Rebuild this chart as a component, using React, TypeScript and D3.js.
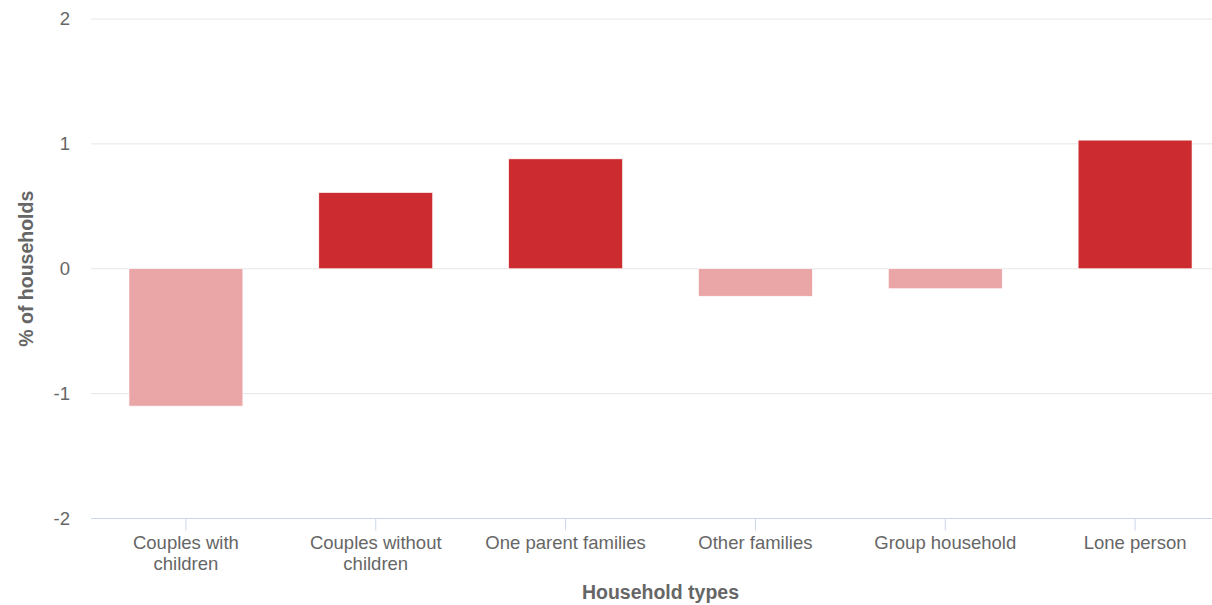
import React from "react";
import * as d3 from "d3";

const categories: string[][] = [
  ["Couples with", "children"],
  ["Couples without", "children"],
  ["One parent families"],
  ["Other families"],
  ["Group household"],
  ["Lone person"],
];
const values: number[] = [-1.1, 0.61, 0.88, -0.22, -0.16, 1.03];
const yTicks: number[] = [-2, -1, 0, 1, 2];

const W = 1212;
const H = 605;
const plotLeft = 91;
const plotRight = 1230;
const plotTop = 19;
const plotBottom = 518.5;

export default function App() {
  const x = d3
    .scaleBand<number>()
    .domain(d3.range(categories.length))
    .range([plotLeft, plotRight])
    .paddingInner(0.4)
    .paddingOuter(0.2);
  const band = d3
    .scaleBand<number>()
    .domain(d3.range(categories.length))
    .range([plotLeft, plotRight]);
  const y = d3.scaleLinear().domain([-2, 2]).range([plotBottom, plotTop]);
  const font = "'Liberation Sans', Arial, sans-serif";
  const bottomY = y(-2);

  return (
    <svg
      width={W}
      height={H}
      style={{ position: "absolute", left: 0, top: 0, background: "#fff", overflow: "hidden" }}
      fontFamily={font}
    >
      {yTicks.map((t) => (
        <g key={t}>
          {t !== -2 && (
            <line x1={plotLeft} x2={plotRight} y1={y(t)} y2={y(t)} stroke="#e6e6e6" strokeWidth={1} />
          )}
          <text x={70} y={y(t)} dy="0.35em" textAnchor="end" fontSize={18.5} fill="#666">
            {t}
          </text>
        </g>
      ))}
      {values.map((v, i) => (
        <rect
          key={i}
          x={x(i)}
          width={x.bandwidth()}
          y={y(Math.max(0, v))}
          height={Math.abs(y(v) - y(0))}
          fill={v >= 0 ? "#cc2b30" : "#eaa5a7"}
          stroke="#fff"
          strokeWidth={0.6}
        />
      ))}
      <line x1={plotLeft} x2={plotRight} y1={bottomY} y2={bottomY} stroke="#ccd6eb" strokeWidth={1} />
      {categories.map((lines, i) => {
        const cx = (band(i) as number) + band.bandwidth() / 2;
        return (
          <g key={i}>
            <line x1={cx} x2={cx} y1={bottomY} y2={bottomY + 12} stroke="#ccd6eb" strokeWidth={1} />
            <text x={cx} y={bottomY + 30} textAnchor="middle" fontSize={18.5} fill="#666">
              {lines.map((l, j) => (
                <tspan key={j} x={cx} dy={j === 0 ? 0 : 21}>
                  {l}
                </tspan>
              ))}
            </text>
          </g>
        );
      })}
      <text
        x={(plotLeft + plotRight) / 2}
        y={599}
        textAnchor="middle"
        fontSize={19.5}
        fontWeight="bold"
        fill="#666"
      >
        Household types
      </text>
      <text
        transform={`translate(33, ${y(0)}) rotate(-90)`}
        textAnchor="middle"
        fontSize={19.5}
        fontWeight="bold"
        fill="#666"
      >
        % of households
      </text>
    </svg>
  );
}
